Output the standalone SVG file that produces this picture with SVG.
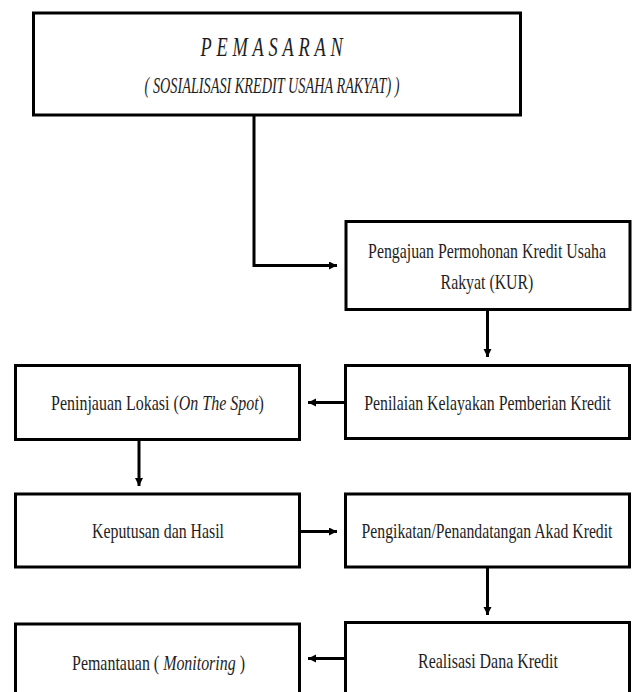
<svg xmlns="http://www.w3.org/2000/svg" width="633" height="692" viewBox="0 0 633 692">
<style>
.box{fill:#fff;stroke:#000;stroke-width:3}
.con{fill:none;stroke:#000;stroke-width:3}
text{font-family:"Liberation Serif","Times New Roman",serif;fill:#1e1e1e;font-size:22px;text-anchor:middle}
.it{font-style:italic}
</style>
<defs>
<marker id="ah" markerUnits="userSpaceOnUse" markerWidth="10" markerHeight="10" refX="8" refY="4" orient="auto">
<path d="M0,0 L8,4 L0,8 Z" fill="#000"/>
</marker>
</defs>
<rect width="633" height="692" fill="#fff"/>
<g id="connectors">
<path class="con" d="M254,116 V265.5 H337" marker-end="url(#ah)"/>
<path class="con" d="M487.5,311 V357" marker-end="url(#ah)"/>
<path class="con" d="M344,402.5 H308" marker-end="url(#ah)"/>
<path class="con" d="M139,441 V486" marker-end="url(#ah)"/>
<path class="con" d="M301,531.5 H337" marker-end="url(#ah)"/>
<path class="con" d="M487.5,568 V615" marker-end="url(#ah)"/>
<path class="con" d="M344,658.5 H308" marker-end="url(#ah)"/>
</g>
<g id="pemasaran">
<rect class="box" x="33.5" y="13" width="487" height="102"/>
<text class="it" transform="translate(274,56) scale(0.68,1)" style="font-size:27px;letter-spacing:7px">PEMASARAN</text>
<text class="it" transform="translate(272,93) scale(0.62,1)" style="font-size:23px">( SOSIALISASI KREDIT USAHA RAKYAT) )</text>
</g>
<g id="pengajuan">
<rect class="box" x="346" y="221.5" width="284" height="88"/>
<text transform="translate(487,258) scale(0.72,1)">Pengajuan Permohonan Kredit Usaha</text>
<text transform="translate(487,289) scale(0.72,1)">Rakyat (KUR)</text>
</g>
<g id="penilaian">
<rect class="box" x="345.5" y="365.5" width="284" height="73"/>
<text transform="translate(487.5,410) scale(0.72,1)">Penilaian Kelayakan Pemberian Kredit</text>
</g>
<g id="peninjauan">
<rect class="box" x="15.5" y="365.5" width="284" height="74"/>
<text transform="translate(157.5,410) scale(0.726,1)">Peninjauan Lokasi (<tspan class="it">On The Spot</tspan>)</text>
</g>
<g id="keputusan">
<rect class="box" x="15.5" y="494" width="284" height="73"/>
<text transform="translate(158,538) scale(0.72,1)">Keputusan dan Hasil</text>
</g>
<g id="pengikatan">
<rect class="box" x="345.5" y="494" width="284" height="73"/>
<text transform="translate(487,538) scale(0.716,1)">Pengikatan/Penandatangan Akad Kredit</text>
</g>
<g id="realisasi">
<rect class="box" x="345.5" y="622.5" width="284" height="100"/>
<text transform="translate(488,668) scale(0.725,1)">Realisasi Dana Kredit</text>
</g>
<g id="pemantauan">
<rect class="box" x="15.5" y="624" width="284" height="100"/>
<text transform="translate(158.5,670) scale(0.724,1)">Pemantauan ( <tspan class="it">Monitoring</tspan> )</text>
</g>
</svg>
